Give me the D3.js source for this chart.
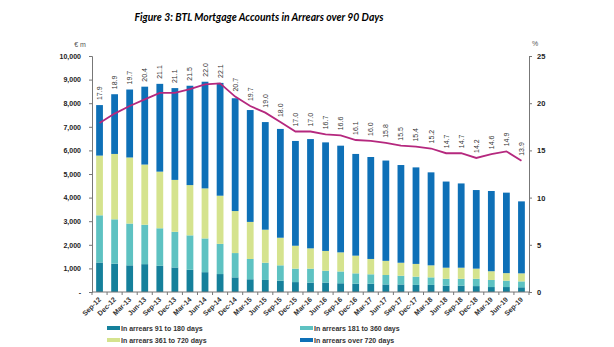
<!DOCTYPE html>
<html>
<head>
<meta charset="utf-8">
<script src="https://cdn.jsdelivr.net/npm/d3@7"></script>
<style>
  body { margin: 0; background: #fff; }
  text { font-family: "Liberation Sans", Arial, sans-serif; }
</style>
</head>
<body>
<script>
var w = 614,
    h = 347;

var quarters = ["Sep-12","Dec-12","Mar-13","Jun-13","Sep-13","Dec-13","Mar-14","Jun-14","Sep-14","Dec-14",
  "Mar-15","Jun-15","Sep-15","Dec-15","Mar-16","Jun-16","Sep-16","Dec-16","Mar-17","Jun-17",
  "Sep-17","Dec-17","Mar-18","Jun-18","Sep-18","Dec-18","Mar-19","Jun-19","Sep-19"];

// € m
var arrears91 = [1250,1200,1130,1180,1110,1040,940,840,760,620,540,510,480,420,400,400,370,350,350,320,320,300,300,270,270,250,210,210,200];
var arrears181 = [2000,1880,1770,1670,1590,1510,1460,1430,1280,1030,860,730,650,570,590,500,500,440,400,400,370,350,320,290,290,310,300,270,250];
var arrears361 = [2530,2770,2800,2550,2400,2200,2130,2120,2040,1780,1570,1400,1170,970,860,840,810,750,650,600,550,540,510,470,470,430,370,320,340];
var arrears720 = [2140,2530,2880,3300,3720,3890,4210,4520,4780,4780,4740,4560,4610,4440,4630,4600,4520,4310,4320,4250,4140,4090,3940,3650,3570,3330,3400,3410,3050];

// % of accounts
var share = [17.9,18.9,19.7,20.4,21.1,21.1,21.5,22.0,22.1,20.7,19.7,19.0,18.0,17.0,17.0,16.7,16.6,16.1,16.0,15.8,15.5,15.4,15.2,14.7,14.7,14.2,14.6,14.9,13.9];

var leftTicks = [0,1000,2000,3000,4000,5000,6000,7000,8000,9000,10000];
var rightTicks = [0,5,10,15,20,25];

var seriesKeys = ["a91","a181","a361","a720"];
var seriesNames = ["In arrears 91 to 180 days","In arrears 181 to 360 days","In arrears 361 to 720 days","In arrears over 720 days"];
var colors = {a91:"#15809b", a181:"#5ec2c2", a361:"#d5e38e", a720:"#0e70b7"};

var rows = quarters.map(function(q, i) {
  return {q: q, a91: arrears91[i], a181: arrears181[i], a361: arrears361[i], a720: arrears720[i], pct: share[i]};
});

var plotL = 92, plotR = 529, plotT = 56, plotB = 292;

var svg = d3.select("body").append("svg").attr("width", w).attr("height", h);

var x = d3.scaleBand().domain(quarters).range([plotL, plotR]).paddingInner(0.55).paddingOuter(0.275);
var y = d3.scaleLinear().domain([0, 10000]).range([plotB, plotT]);
var y2 = d3.scaleLinear().domain([0, 25]).range([plotB, plotT]);

// title
svg.append("text")
  .attr("x", 259).attr("y", 21)
  .attr("text-anchor", "middle")
  .style("font-family", "Lato, 'Open Sans', sans-serif")
  .attr("font-size", "10.4px").attr("font-weight", "bold").attr("font-style", "italic")
  .attr("fill", "#000")
  .text("Figure 3: BTL Mortgage Accounts in Arrears over 90 Days");

// bars
var stacked = d3.stack().keys(seriesKeys)(rows);
svg.append("g").selectAll("g").data(stacked)
  .enter().append("g")
  .attr("fill", function(d) { return colors[d.key]; })
  .selectAll("rect").data(function(d) { return d; })
  .enter().append("rect")
  .attr("x", function(d) { return x(d.data.q); })
  .attr("width", x.bandwidth())
  .attr("y", function(d) { return y(d[1]); })
  .attr("height", function(d) { return y(d[0]) - y(d[1]); });

// line
var line = d3.line()
  .x(function(d) { return x(d.q) + x.bandwidth() / 2; })
  .y(function(d) { return y2(d.pct); });
svg.append("path").datum(rows)
  .attr("d", line)
  .attr("fill", "none")
  .attr("stroke", "#b5287e")
  .attr("stroke-width", 1.8);

// line labels, sit above the bar or the line, whichever is higher
function total(d) { return d.a91 + d.a181 + d.a361 + d.a720; }
svg.append("g").selectAll("text").data(rows)
  .enter().append("text")
  .attr("transform", function(d) {
    var ly = Math.min(y(total(d)), y2(d.pct)) - 5;
    return "translate(" + (x(d.q) + x.bandwidth() / 2 + 2.5) + "," + ly + ") rotate(-90)";
  })
  .attr("font-size", "7px")
  .attr("fill", "#333")
  .text(function(d) { return d.pct.toFixed(1); });

// left axis
var gl = svg.append("g").attr("transform", "translate(" + plotL + ",0)")
  .call(d3.axisLeft(y).tickValues(leftTicks).tickSize(3).tickPadding(8)
    .tickFormat(function(d) { return d === 0 ? "-" : d3.format(",")(d); }));
gl.selectAll("text").attr("font-size", "7px").attr("font-weight", "bold").attr("fill", "#222")
  .style("font-family", "'Liberation Sans', Arial, sans-serif");

// right axis
var gr = svg.append("g").attr("transform", "translate(" + plotR + ",0)")
  .call(d3.axisRight(y2).tickValues(rightTicks).tickSize(3).tickPadding(5));
gr.selectAll("text").attr("font-size", "7.5px").attr("font-weight", "bold").attr("fill", "#222")
  .style("font-family", "'Liberation Sans', Arial, sans-serif");

svg.selectAll(".domain").attr("stroke", "#777");
svg.selectAll(".tick line").attr("stroke", "#777");

// x axis
svg.append("line")
  .attr("x1", plotL).attr("x2", plotR).attr("y1", plotB).attr("y2", plotB)
  .attr("stroke", "#777");
svg.append("g").selectAll("line").data(d3.range(quarters.length + 1))
  .enter().append("line")
  .attr("x1", function(i) { return plotL + i * x.step(); })
  .attr("x2", function(i) { return plotL + i * x.step(); })
  .attr("y1", plotB).attr("y2", plotB + 3)
  .attr("stroke", "#777");
svg.append("g").selectAll("text").data(quarters)
  .enter().append("text")
  .attr("transform", function(d) {
    return "translate(" + (x(d) + x.bandwidth() / 2 + 2) + "," + (plotB + 8) + ") rotate(-45)";
  })
  .attr("text-anchor", "end")
  .attr("font-size", "7px").attr("font-weight", "bold").attr("fill", "#333")
  .text(function(d) { return d; });

// unit labels
svg.append("text").attr("x", 80).attr("y", 47).attr("text-anchor", "middle")
  .attr("font-size", "7px").attr("fill", "#555").text("€ m");
svg.append("text").attr("x", 535).attr("y", 46).attr("text-anchor", "middle")
  .attr("font-size", "7px").attr("fill", "#555").text("%");

// legend
var legendPos = [[107, 328], [300, 328], [107, 340], [300, 340]];
var lg = svg.append("g").selectAll("g").data(seriesKeys)
  .enter().append("g")
  .attr("transform", function(d, i) { return "translate(" + legendPos[i][0] + "," + legendPos[i][1] + ")"; });
lg.append("rect").attr("x", 0).attr("y", -2).attr("width", 13).attr("height", 4)
  .attr("fill", function(d) { return colors[d]; });
lg.append("text").attr("x", 14).attr("y", 2.5)
  .attr("font-size", "7px").attr("font-weight", "bold").attr("fill", "#333")
  .text(function(d, i) { return seriesNames[i]; });
</script>
</body>
</html>
